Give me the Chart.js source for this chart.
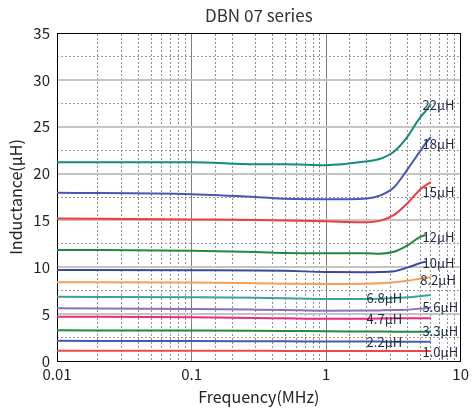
<!DOCTYPE html>
<html>
<head>
<meta charset="utf-8">
<script src="https://cdn.jsdelivr.net/npm/chart.js@4.4.1/dist/chart.umd.min.js"></script>
<style>
  html, body { margin: 0; padding: 0; background: #fff; }
</style>
</head>
<body>
<canvas id="grafico" width="473" height="412"></canvas>
<script>
// frequencias (MHz) comuns a todas as curvas
const freqs = [0.01, 0.1, 0.3, 0.5, 1, 2, 2.5, 3.2, 4, 5, 5.5, 6];

const nomes = ['22µH', '18µH', '15µH', '12µH', '10µH', '8.2µH', '6.8µH', '5.6µH', '4.7µH', '3.3µH', '2.2µH', '1.0µH'];

const l22  = [21.2, 21.2, 21.0, 21.0, 20.9, 21.3, 21.55, 22.35, 23.9, 26.0, 26.7, 27.4];
const l18  = [17.95, 17.8, 17.5, 17.3, 17.25, 17.35, 17.65, 18.55, 20.4, 22.4, 23.25, 23.9];
const l15  = [15.2, 15.1, 15.05, 15.0, 14.9, 14.8, 14.95, 15.6, 16.8, 18.3, 18.75, 19.1];
const l12  = [11.85, 11.77, 11.63, 11.52, 11.49, 11.5, 11.45, 11.65, 12.3, 13.25, 13.45, null];
const l10  = [9.71, 9.68, 9.66, 9.62, 9.5, 9.48, 9.5, 9.58, 9.96, 10.45, 10.6, null];
const l8_2 = [8.4, 8.38, 8.3, 8.25, 8.22, 8.25, 8.3, 8.4, 8.57, 8.78, 8.86, 8.93];
const l6_8 = [6.86, 6.8, 6.75, 6.7, 6.62, 6.62, 6.65, 6.72, 6.8, 6.92, 6.98, 7.04];
const l5_6 = [5.62, 5.55, 5.48, 5.44, 5.37, 5.38, 5.4, 5.43, 5.48, 5.58, 5.63, 5.69];
const l4_7 = [4.73, 4.66, 4.6, 4.55, 4.5, 4.52, 4.53, 4.55, 4.55, 4.55, 4.55, 4.55];
const l3_3 = [3.27, 3.25, 3.22, 3.2, 3.17, 3.15, 3.14, 3.13, 3.13, 3.13, 3.13, 3.13];
const l2_2 = [2.15, 2.13, 2.11, 2.1, 2.08, 2.07, 2.07, 2.06, 2.06, 2.06, 2.06, 2.06];
const l1_0 = [1.1, 1.1, 1.09, 1.08, 1.08, 1.07, 1.07, 1.07, 1.07, 1.07, 1.07, 1.07];

const series = [l22, l18, l15, l12, l10, l8_2, l6_8, l5_6, l4_7, l3_3, l2_2, l1_0];
const cores = ['#178a7e', '#4858b0', '#f03c3c', '#1f8a3f', '#3d4a9c', '#f5a05a',
               '#3aa39a', '#8a70c0', '#ee2a7a', '#218a3c', '#4858b0', '#f04848'];

// posicao dos rotulos (freq, valor) - canto esquerdo do texto
const rotuloFreq  = [5.2, 5.2, 5.2, 5.2, 5.2, 5.0, 2.0, 5.2, 2.0, 5.2, 2.0, 5.2];
const rotuloValor = [27.3, 23.2, 18.0, 13.2, 10.45, 8.65, 6.7, 5.76, 4.48, 3.2, 2.03, 0.96];

const fonte = '"Noto Sans CJK JP", "Liberation Sans", sans-serif';

function ehDecada(v) {
    const l = Math.log10(v);
    return Math.abs(l - Math.round(l)) < 1e-6;
}

const rotulos = {
    id: 'rotulos',
    afterDatasetsDraw(chart) {
        const ctx = chart.ctx;
        const sx = chart.scales.x, sy = chart.scales.y;
        ctx.save();
        ctx.font = '13px ' + fonte;
        ctx.fillStyle = '#1e2a44';
        ctx.textAlign = 'left';
        ctx.textBaseline = 'middle';
        for (let i = 0; i < nomes.length; i++) {
            ctx.fillText(nomes[i], sx.getPixelForValue(rotuloFreq[i]), sy.getPixelForValue(rotuloValor[i]));
        }
        ctx.restore();
    }
};

const grafico = new Chart(document.getElementById('grafico'), {
    type: 'line',
    data: {
        datasets: series.map((s, i) => ({
            label: nomes[i],
            data: s.map((v, j) => ({ x: freqs[j], y: v })),
            borderColor: cores[i],
            backgroundColor: cores[i],
            borderWidth: 2,
            pointRadius: 0,
            fill: false,
            cubicInterpolationMode: 'monotone',
            spanGaps: false
        }))
    },
    options: {
        responsive: false,
        animation: false,
        devicePixelRatio: 1,
        layout: { padding: { left: 0, right: 9, top: 0, bottom: 0 } },
        plugins: {
            legend: { display: false },
            tooltip: { enabled: false },
            title: {
                display: true,
                text: 'DBN 07 series',
                fullSize: false,
                color: '#333',
                font: { family: fonte, size: 17, weight: 'normal', lineHeight: 1.2 },
                padding: { top: 5, bottom: 7.6 }
            }
        },
        scales: {
            x: {
                type: 'logarithmic',
                min: 0.01,
                max: 10,
                afterFit: s => { s.height = 51; },
                border: { display: true, color: '#000', width: 1 },
                grid: {
                    drawTicks: false,
                    color: c => (ehDecada(c.tick.value) && c.tick.value > 0.011 && c.tick.value < 9.9) ? '#808080' : 'rgba(0,0,0,0)',
                    lineWidth: 1
                },
                ticks: {
                    autoSkip: false,
                    maxRotation: 0,
                    padding: 4,
                    color: '#222',
                    font: { family: fonte, size: 15 },
                    callback: v => ehDecada(v) ? String(v) : ''
                },
                title: {
                    display: true,
                    text: 'Frequency(MHz)',
                    color: '#222',
                    font: { family: fonte, size: 16, lineHeight: 1.2 },
                    padding: { top: 0, bottom: 5 }
                }
            },
            x2: {
                type: 'logarithmic',
                position: 'top',
                min: 0.01,
                max: 10,
                afterFit: s => { s.height = 0; },
                border: { display: true, color: '#000', width: 1, dash: [2, 2] },
                grid: {
                    drawTicks: false,
                    color: c => ehDecada(c.tick.value) ? 'rgba(0,0,0,0)' : '#8f8f8f',
                    lineWidth: 1
                },
                ticks: { display: false, autoSkip: false }
            },
            y: {
                min: 0,
                max: 35,
                afterFit: s => { s.width = 57; },
                border: { display: true, color: '#000', width: 1 },
                grid: {
                    drawTicks: false,
                    color: c => (c.tick.value > 0 && c.tick.value < 35) ? '#c4c4c4' : 'rgba(0,0,0,0)',
                    lineWidth: 2
                },
                ticks: {
                    stepSize: 5,
                    padding: 7,
                    color: '#222',
                    font: { family: fonte, size: 15 }
                },
                title: {
                    display: true,
                    text: 'Inductance(μH)',
                    color: '#222',
                    font: { family: fonte, size: 16, lineHeight: 1.2 },
                    padding: { top: 6, bottom: 0 }
                }
            },
            y2: {
                position: 'right',
                min: 0,
                max: 35,
                afterFit: s => { s.width = 0; },
                border: { display: true, color: '#000', width: 1, dash: [2, 2] },
                grid: {
                    drawTicks: false,
                    color: c => (c.tick.value % 5 !== 0) ? '#9a9a9a' : 'rgba(0,0,0,0)',
                    lineWidth: 1
                },
                ticks: { display: false, stepSize: 2.5 }
            }
        }
    },
    plugins: [rotulos]
});
</script>
</body>
</html>
